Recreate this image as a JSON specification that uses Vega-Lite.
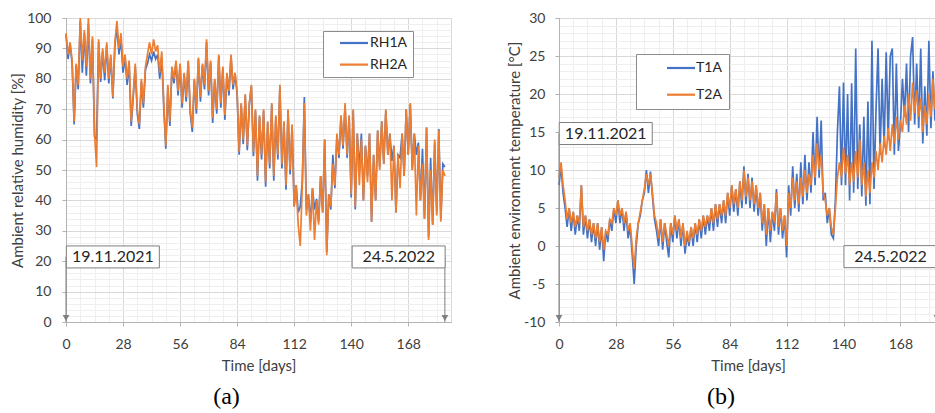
{
  "$schema": "https://vega.github.io/schema/vega-lite/v6.json",
  "background": "white",
  "padding": {"left": 10, "top": 11, "right": 0, "bottom": 0},
  "spacing": 55,
  "resolve": {"scale": {"color": "independent"}, "legend": {"color": "independent"}},
  "config": {
    "font": "Lato",
    "view": {"stroke": null},
    "axis": {
      "labelFont": "Lato", "labelFontSize": 14, "labelColor": "#404040",
      "titleFont": "Lato", "titleFontSize": 15, "titleFontWeight": "normal", "titleColor": "#404040",
      "domainColor": "#b3b3b3", "tickSize": 4, "grid": true, "gridWidth": 1,
      "labelOverlap": false, "labelFlush": false, "labelBound": false
    }
  },
  "datasets": {
    "series": [
      {"d":0,"RH1A":94.5,"RH2A":95,"T1A":8,"T2A":9},
      {"d":1,"RH1A":86.5,"RH2A":88,"T1A":10.5,"T2A":11},
      {"d":2,"RH1A":91.5,"RH2A":92,"T1A":7,"T2A":8},
      {"d":3,"RH1A":85,"RH2A":86,"T1A":5,"T2A":6},
      {"d":4,"RH1A":65,"RH2A":66,"T1A":2.5,"T2A":3.5},
      {"d":5,"RH1A":84.5,"RH2A":85,"T1A":5,"T2A":5},
      {"d":6,"RH1A":76.5,"RH2A":78,"T1A":2,"T2A":3},
      {"d":7,"RH1A":99,"RH2A":100,"T1A":4.5,"T2A":4.5},
      {"d":8,"RH1A":82,"RH2A":86,"T1A":1.5,"T2A":2.5},
      {"d":9,"RH1A":95,"RH2A":96,"T1A":4,"T2A":4},
      {"d":10,"RH1A":81,"RH2A":84,"T1A":2,"T2A":3},
      {"d":11,"RH1A":98,"RH2A":100,"T1A":8,"T2A":8},
      {"d":12,"RH1A":78.5,"RH2A":80,"T1A":1.5,"T2A":2.5},
      {"d":13,"RH1A":93,"RH2A":94,"T1A":4,"T2A":4},
      {"d":14,"RH1A":61,"RH2A":62,"T1A":1,"T2A":2},
      {"d":15,"RH1A":60,"RH2A":51,"T1A":3.5,"T2A":3.5},
      {"d":16,"RH1A":92,"RH2A":93,"T1A":0.5,"T2A":1.5},
      {"d":17,"RH1A":79,"RH2A":80,"T1A":3,"T2A":3},
      {"d":18,"RH1A":89,"RH2A":90,"T1A":0,"T2A":1},
      {"d":19,"RH1A":79.5,"RH2A":82,"T1A":3,"T2A":3},
      {"d":20,"RH1A":91,"RH2A":92,"T1A":-0.5,"T2A":0.5},
      {"d":21,"RH1A":78.5,"RH2A":80,"T1A":2.5,"T2A":2.5},
      {"d":22,"RH1A":87,"RH2A":88,"T1A":-2,"T2A":-0.5},
      {"d":23,"RH1A":73.5,"RH2A":74,"T1A":2,"T2A":2},
      {"d":24,"RH1A":91,"RH2A":92,"T1A":0.5,"T2A":1.5},
      {"d":25,"RH1A":97,"RH2A":99,"T1A":3.5,"T2A":3.5},
      {"d":26,"RH1A":88,"RH2A":90,"T1A":2,"T2A":3},
      {"d":27,"RH1A":93,"RH2A":95,"T1A":5,"T2A":5},
      {"d":28,"RH1A":82,"RH2A":84,"T1A":3,"T2A":4},
      {"d":29,"RH1A":87,"RH2A":88,"T1A":6,"T2A":6},
      {"d":30,"RH1A":78,"RH2A":80,"T1A":3,"T2A":4},
      {"d":31,"RH1A":85,"RH2A":86,"T1A":5,"T2A":5},
      {"d":32,"RH1A":64.5,"RH2A":66,"T1A":2,"T2A":3},
      {"d":33,"RH1A":74,"RH2A":75,"T1A":4.5,"T2A":4.5},
      {"d":34,"RH1A":84,"RH2A":85,"T1A":1,"T2A":2},
      {"d":35,"RH1A":68.5,"RH2A":70,"T1A":2.5,"T2A":3},
      {"d":36,"RH1A":63.5,"RH2A":65,"T1A":-1,"T2A":0},
      {"d":37,"RH1A":79,"RH2A":80,"T1A":-5,"T2A":-3},
      {"d":38,"RH1A":70.5,"RH2A":72,"T1A":0,"T2A":1},
      {"d":39,"RH1A":83,"RH2A":84,"T1A":3,"T2A":3},
      {"d":40,"RH1A":85,"RH2A":88,"T1A":4,"T2A":4.5},
      {"d":41,"RH1A":88,"RH2A":92,"T1A":6,"T2A":6},
      {"d":42,"RH1A":86,"RH2A":88,"T1A":7,"T2A":7.5},
      {"d":43,"RH1A":89,"RH2A":93,"T1A":10,"T2A":9.5},
      {"d":44,"RH1A":86.5,"RH2A":89,"T1A":7,"T2A":8},
      {"d":45,"RH1A":88,"RH2A":91,"T1A":9.8,"T2A":9.5},
      {"d":46,"RH1A":80,"RH2A":82,"T1A":6.5,"T2A":7},
      {"d":47,"RH1A":87,"RH2A":89,"T1A":3.5,"T2A":4},
      {"d":48,"RH1A":70.5,"RH2A":72,"T1A":2,"T2A":3},
      {"d":49,"RH1A":57,"RH2A":58,"T1A":0,"T2A":1},
      {"d":50,"RH1A":77,"RH2A":78,"T1A":3.5,"T2A":3.5},
      {"d":51,"RH1A":64.5,"RH2A":66,"T1A":-0.5,"T2A":0.5},
      {"d":52,"RH1A":83.5,"RH2A":84,"T1A":3,"T2A":3},
      {"d":53,"RH1A":78.5,"RH2A":80,"T1A":0.5,"T2A":1.5},
      {"d":54,"RH1A":85.5,"RH2A":86,"T1A":-1.5,"T2A":0},
      {"d":55,"RH1A":74.5,"RH2A":76,"T1A":3,"T2A":3},
      {"d":56,"RH1A":84.5,"RH2A":85,"T1A":0.5,"T2A":1.5},
      {"d":57,"RH1A":70.5,"RH2A":72,"T1A":4,"T2A":4},
      {"d":58,"RH1A":81.5,"RH2A":82,"T1A":1,"T2A":2},
      {"d":59,"RH1A":72.5,"RH2A":74,"T1A":3.5,"T2A":3.5},
      {"d":60,"RH1A":85.5,"RH2A":86,"T1A":0,"T2A":1},
      {"d":61,"RH1A":68.5,"RH2A":70,"T1A":3,"T2A":3},
      {"d":62,"RH1A":62.5,"RH2A":64,"T1A":-1,"T2A":0},
      {"d":63,"RH1A":79.5,"RH2A":80,"T1A":1.5,"T2A":2},
      {"d":64,"RH1A":68.5,"RH2A":70,"T1A":0,"T2A":0.5},
      {"d":65,"RH1A":86.5,"RH2A":87,"T1A":2.5,"T2A":2.5},
      {"d":66,"RH1A":72.5,"RH2A":74,"T1A":0,"T2A":1},
      {"d":67,"RH1A":84.5,"RH2A":85,"T1A":3,"T2A":3},
      {"d":68,"RH1A":76.5,"RH2A":78,"T1A":0.5,"T2A":1.5},
      {"d":69,"RH1A":92,"RH2A":93,"T1A":3.5,"T2A":3.5},
      {"d":70,"RH1A":74.5,"RH2A":76,"T1A":1,"T2A":2},
      {"d":71,"RH1A":85.5,"RH2A":86,"T1A":4,"T2A":4},
      {"d":72,"RH1A":65.5,"RH2A":67,"T1A":1.5,"T2A":2.5},
      {"d":73,"RH1A":79.5,"RH2A":80,"T1A":4,"T2A":4},
      {"d":74,"RH1A":68.5,"RH2A":70,"T1A":2,"T2A":3},
      {"d":75,"RH1A":87.5,"RH2A":88,"T1A":5,"T2A":5},
      {"d":76,"RH1A":70.5,"RH2A":72,"T1A":2,"T2A":3},
      {"d":77,"RH1A":83.5,"RH2A":84,"T1A":5.5,"T2A":5.5},
      {"d":78,"RH1A":66.5,"RH2A":68,"T1A":2.5,"T2A":3.5},
      {"d":79,"RH1A":81.5,"RH2A":82,"T1A":5.5,"T2A":5.5},
      {"d":80,"RH1A":74.5,"RH2A":76,"T1A":3,"T2A":4},
      {"d":81,"RH1A":87.5,"RH2A":88,"T1A":6,"T2A":6},
      {"d":82,"RH1A":76.5,"RH2A":78,"T1A":3,"T2A":4},
      {"d":83,"RH1A":81.5,"RH2A":82,"T1A":7,"T2A":7},
      {"d":84,"RH1A":75,"RH2A":76,"T1A":4,"T2A":5},
      {"d":85,"RH1A":55,"RH2A":56,"T1A":8,"T2A":8},
      {"d":86,"RH1A":71.5,"RH2A":72,"T1A":4.5,"T2A":5.5},
      {"d":87,"RH1A":58.5,"RH2A":60,"T1A":7.5,"T2A":7.5},
      {"d":88,"RH1A":74.5,"RH2A":75,"T1A":4,"T2A":5},
      {"d":89,"RH1A":56.5,"RH2A":58,"T1A":8.5,"T2A":8.5},
      {"d":90,"RH1A":71.5,"RH2A":72,"T1A":5,"T2A":6},
      {"d":91,"RH1A":77.5,"RH2A":78,"T1A":10.5,"T2A":10},
      {"d":92,"RH1A":54.5,"RH2A":56,"T1A":5.5,"T2A":6.5},
      {"d":93,"RH1A":69.5,"RH2A":70,"T1A":9.5,"T2A":9},
      {"d":94,"RH1A":46.5,"RH2A":48,"T1A":5,"T2A":6},
      {"d":95,"RH1A":67.5,"RH2A":68,"T1A":9,"T2A":8.5},
      {"d":96,"RH1A":53.5,"RH2A":55,"T1A":4.5,"T2A":5.5},
      {"d":97,"RH1A":69.5,"RH2A":70,"T1A":8,"T2A":8},
      {"d":98,"RH1A":44.5,"RH2A":46,"T1A":4,"T2A":5},
      {"d":99,"RH1A":65.5,"RH2A":66,"T1A":7,"T2A":7},
      {"d":100,"RH1A":50.5,"RH2A":52,"T1A":2,"T2A":3},
      {"d":101,"RH1A":71.5,"RH2A":72,"T1A":5.5,"T2A":5.5},
      {"d":102,"RH1A":46.5,"RH2A":48,"T1A":0,"T2A":1.5},
      {"d":103,"RH1A":67.5,"RH2A":68,"T1A":5,"T2A":5},
      {"d":104,"RH1A":53.5,"RH2A":55,"T1A":0.5,"T2A":2},
      {"d":105,"RH1A":77.5,"RH2A":78,"T1A":4.5,"T2A":4.5},
      {"d":106,"RH1A":50.5,"RH2A":52,"T1A":2,"T2A":3},
      {"d":107,"RH1A":65.5,"RH2A":66,"T1A":7.5,"T2A":7},
      {"d":108,"RH1A":43.5,"RH2A":45,"T1A":1.5,"T2A":2.5},
      {"d":109,"RH1A":69.5,"RH2A":70,"T1A":5,"T2A":5},
      {"d":110,"RH1A":48.5,"RH2A":50,"T1A":1,"T2A":2},
      {"d":111,"RH1A":64.5,"RH2A":65,"T1A":4,"T2A":4},
      {"d":112,"RH1A":38,"RH2A":38,"T1A":-1.5,"T2A":0},
      {"d":113,"RH1A":45,"RH2A":45,"T1A":8,"T2A":7},
      {"d":114,"RH1A":36,"RH2A":32,"T1A":4,"T2A":5},
      {"d":115,"RH1A":38,"RH2A":25,"T1A":10.5,"T2A":9},
      {"d":116,"RH1A":46,"RH2A":45,"T1A":5,"T2A":6},
      {"d":117,"RH1A":74,"RH2A":72,"T1A":9.5,"T2A":8.5},
      {"d":118,"RH1A":37,"RH2A":35,"T1A":4.5,"T2A":5.5},
      {"d":119,"RH1A":42,"RH2A":42,"T1A":11,"T2A":9},
      {"d":120,"RH1A":33,"RH2A":30,"T1A":5.5,"T2A":6.5},
      {"d":121,"RH1A":44,"RH2A":44,"T1A":12,"T2A":10},
      {"d":122,"RH1A":37,"RH2A":27,"T1A":6,"T2A":7},
      {"d":123,"RH1A":40.5,"RH2A":40,"T1A":11,"T2A":9.5},
      {"d":124,"RH1A":33,"RH2A":32,"T1A":7,"T2A":8},
      {"d":125,"RH1A":48,"RH2A":48,"T1A":15,"T2A":12},
      {"d":126,"RH1A":36,"RH2A":36,"T1A":8,"T2A":9},
      {"d":127,"RH1A":60,"RH2A":60,"T1A":17,"T2A":13.5},
      {"d":128,"RH1A":23,"RH2A":22,"T1A":9,"T2A":10},
      {"d":129,"RH1A":42,"RH2A":42,"T1A":16.5,"T2A":12},
      {"d":130,"RH1A":37,"RH2A":38,"T1A":6,"T2A":7},
      {"d":131,"RH1A":55,"RH2A":52,"T1A":7,"T2A":6},
      {"d":132,"RH1A":44,"RH2A":45,"T1A":3,"T2A":4},
      {"d":133,"RH1A":61.5,"RH2A":62,"T1A":5,"T2A":5},
      {"d":134,"RH1A":54,"RH2A":55,"T1A":1.5,"T2A":2.5},
      {"d":135,"RH1A":67.5,"RH2A":68,"T1A":1,"T2A":1.5},
      {"d":136,"RH1A":57,"RH2A":58,"T1A":6,"T2A":5},
      {"d":137,"RH1A":71,"RH2A":72,"T1A":15,"T2A":9},
      {"d":138,"RH1A":54,"RH2A":55,"T1A":21,"T2A":11},
      {"d":139,"RH1A":67.5,"RH2A":68,"T1A":8,"T2A":9},
      {"d":140,"RH1A":41,"RH2A":42,"T1A":21.5,"T2A":13},
      {"d":141,"RH1A":69.5,"RH2A":70,"T1A":8,"T2A":9.5},
      {"d":142,"RH1A":37,"RH2A":38,"T1A":20,"T2A":12},
      {"d":143,"RH1A":62,"RH2A":62,"T1A":6,"T2A":8},
      {"d":144,"RH1A":50,"RH2A":45,"T1A":21.4,"T2A":11},
      {"d":145,"RH1A":62,"RH2A":60,"T1A":7,"T2A":8.5},
      {"d":146,"RH1A":40,"RH2A":40,"T1A":26,"T2A":12.5},
      {"d":147,"RH1A":58,"RH2A":58,"T1A":7.5,"T2A":9},
      {"d":148,"RH1A":48,"RH2A":46,"T1A":16,"T2A":14},
      {"d":149,"RH1A":62,"RH2A":62,"T1A":6.5,"T2A":8},
      {"d":150,"RH1A":33,"RH2A":33,"T1A":17,"T2A":11},
      {"d":151,"RH1A":55,"RH2A":55,"T1A":5.3,"T2A":6.5},
      {"d":152,"RH1A":40,"RH2A":40,"T1A":19,"T2A":10},
      {"d":153,"RH1A":63,"RH2A":63,"T1A":5.5,"T2A":7},
      {"d":154,"RH1A":51,"RH2A":50,"T1A":27,"T2A":11},
      {"d":155,"RH1A":66,"RH2A":66,"T1A":7.5,"T2A":9},
      {"d":156,"RH1A":52,"RH2A":52,"T1A":18,"T2A":12.5},
      {"d":157,"RH1A":69.5,"RH2A":70,"T1A":26,"T2A":10},
      {"d":158,"RH1A":55,"RH2A":55,"T1A":12,"T2A":13.5},
      {"d":159,"RH1A":62,"RH2A":62,"T1A":22,"T2A":11},
      {"d":160,"RH1A":53,"RH2A":40,"T1A":13,"T2A":14.5},
      {"d":161,"RH1A":58,"RH2A":58,"T1A":25.5,"T2A":12},
      {"d":162,"RH1A":36,"RH2A":36,"T1A":14,"T2A":15.5},
      {"d":163,"RH1A":55,"RH2A":55,"T1A":25,"T2A":12.5},
      {"d":164,"RH1A":54,"RH2A":44,"T1A":26,"T2A":16},
      {"d":165,"RH1A":62,"RH2A":62,"T1A":12,"T2A":13.5},
      {"d":166,"RH1A":48,"RH2A":48,"T1A":24,"T2A":17},
      {"d":167,"RH1A":70,"RH2A":70,"T1A":12.5,"T2A":14},
      {"d":168,"RH1A":55,"RH2A":55,"T1A":16,"T2A":16.5},
      {"d":169,"RH1A":71.5,"RH2A":72,"T1A":22,"T2A":15},
      {"d":170,"RH1A":50,"RH2A":50,"T1A":17,"T2A":18.5},
      {"d":171,"RH1A":62,"RH2A":62,"T1A":24,"T2A":16},
      {"d":172,"RH1A":55,"RH2A":35,"T1A":15,"T2A":20},
      {"d":173,"RH1A":59,"RH2A":58,"T1A":25,"T2A":16.5},
      {"d":174,"RH1A":40,"RH2A":40,"T1A":27.5,"T2A":21.5},
      {"d":175,"RH1A":57,"RH2A":52,"T1A":16,"T2A":17.5},
      {"d":176,"RH1A":34,"RH2A":34,"T1A":24,"T2A":20.5},
      {"d":177,"RH1A":64,"RH2A":64,"T1A":15.5,"T2A":17},
      {"d":178,"RH1A":28,"RH2A":27,"T1A":26,"T2A":19.5},
      {"d":179,"RH1A":54,"RH2A":50,"T1A":13.5,"T2A":15},
      {"d":180,"RH1A":32,"RH2A":32,"T1A":21,"T2A":18.5},
      {"d":181,"RH1A":59,"RH2A":60,"T1A":14.5,"T2A":16},
      {"d":182,"RH1A":36,"RH2A":35,"T1A":27,"T2A":20},
      {"d":183,"RH1A":63.5,"RH2A":63,"T1A":15.5,"T2A":17},
      {"d":184,"RH1A":34,"RH2A":33,"T1A":23,"T2A":22},
      {"d":185,"RH1A":52,"RH2A":50,"T1A":16.5,"T2A":18},
      {"d":186,"RH1A":51,"RH2A":48,"T1A":22,"T2A":20}
    ],
    "notesA": [
      {"d": 23, "v": 21.4, "tip": 0, "base": 0, "label": "19.11.2021"},
      {"d": 163.3, "v": 21.4, "tip": 186, "base": 0, "label": "24.5.2022"}
    ],
    "notesB": [
      {"d": 23, "v": 14.8, "tip": 0, "base": -10, "label": "19.11.2021"},
      {"d": 163.1, "v": -1.4, "tip": 186, "base": -10, "label": "24.5.2022"}
    ]
  },
  "hconcat": [
    {
      "width": 385,
      "height": 304,
      "title": {"text": "(a)", "orient": "bottom", "anchor": "middle", "font": "Liberation Serif", "fontSize": 24, "fontWeight": "normal", "color": "#000000", "dx": -32, "offset": 12},
      "resolve": {"axis": {"x": "independent", "y": "independent"}},
      "layer": [
        {
          "data": {"name": "series"},
          "transform": [{"fold": ["RH1A", "RH2A"], "as": ["sensor", "value"]}],
          "mark": {"type": "line", "strokeWidth": 1.7},
          "encoding": {
            "x": {"field": "d", "type": "quantitative", "scale": {"domain": [0, 189], "nice": false, "zero": false},
              "axis": {"orient": "bottom", "title": "Time [days]", "values": [0,7,14,21,28,35,42,49,56,63,70,77,84,91,98,105,112,119,126,133,140,147,154,161,168,175,182,189],
                "labelExpr": "datum.value % 28 === 0 ? '' + datum.value : ''",
                "gridColor": {"condition": {"test": "datum.value % 28 === 0 || datum.value === 189", "value": "#d9d9d9"}, "value": "#efefef"},
                "tickColor": {"condition": {"test": "datum.value % 28 === 0", "value": "#b3b3b3"}, "value": "transparent"},
                "labelPadding": 11, "titlePadding": 7}},
            "y": {"field": "value", "type": "quantitative", "scale": {"domain": [0, 100], "nice": false},
              "axis": {"orient": "left", "title": "Ambient relative humidity [%]", "values": [0,2,4,6,8,10,12,14,16,18,20,22,24,26,28,30,32,34,36,38,40,42,44,46,48,50,52,54,56,58,60,62,64,66,68,70,72,74,76,78,80,82,84,86,88,90,92,94,96,98,100],
                "labelExpr": "datum.value % 10 === 0 ? '' + datum.value : ''",
                "gridColor": {"condition": {"test": "datum.value % 10 === 0", "value": "#d9d9d9"}, "value": "#efefef"},
                "tickColor": {"condition": {"test": "datum.value % 10 === 0", "value": "#b3b3b3"}, "value": "transparent"},
                "labelPadding": 11, "titlePadding": 1}},
            "color": {"field": "sensor", "type": "nominal",
              "scale": {"domain": ["RH1A", "RH2A"], "range": ["#4472C4", "#ED7D31"]},
              "legend": {"title": null, "orient": "none", "legendX": 257, "legendY": 13,
                "symbolType": "M-2.8,0H2.8", "symbolSize": 100, "symbolStrokeWidth": 2.2,
                "labelFont": "Lato", "labelFontSize": 14, "labelColor": "#262626",
                "labelExpr": "datum.label + '\u2002\u2002'",
                "strokeColor": "#8c8c8c", "fillColor": "white", "padding": 5,
                "symbolOffset": 19, "labelOffset": 9, "rowPadding": 7.6}}
          }
        },
        {
          "data": {"name": "notesA"},
          "mark": {"type": "rule", "color": "#7f7f7f", "strokeWidth": 1},
          "encoding": {
            "x": {"field": "tip", "type": "quantitative", "axis": null},
            "y": {"field": "v", "type": "quantitative", "axis": null},
            "y2": {"field": "base"}
          }
        },
        {
          "data": {"name": "notesA"},
          "mark": {"type": "point", "shape": "M-1,-0.2366H1V0.2366H-1Z", "size": 8649, "filled": true, "fill": "white", "stroke": "#7f7f7f", "strokeWidth": 1, "opacity": 1},
          "encoding": {
            "x": {"field": "d", "type": "quantitative", "axis": null},
            "y": {"field": "v", "type": "quantitative", "axis": null}
          }
        },
        {
          "data": {"name": "notesA"},
          "mark": {"type": "text", "font": "Lato", "fontSize": 16, "color": "#262626", "align": "center", "baseline": "middle"},
          "encoding": {
            "x": {"field": "d", "type": "quantitative", "axis": null},
            "y": {"field": "v", "type": "quantitative", "axis": null},
            "text": {"field": "label"}
          }
        },
        {
          "data": {"name": "notesA"},
          "mark": {"type": "point", "shape": "triangle-down", "size": 45, "filled": true, "color": "#7f7f7f", "opacity": 1, "yOffset": -4},
          "encoding": {
            "x": {"field": "tip", "type": "quantitative", "axis": null},
            "y": {"field": "base", "type": "quantitative", "axis": null}
          }
        }
      ]
    },
    {
      "width": 378,
      "height": 304,
      "title": {"text": "(b)", "orient": "bottom", "anchor": "middle", "font": "Liberation Serif", "fontSize": 24, "fontWeight": "normal", "color": "#000000", "dx": -27, "offset": 12},
      "resolve": {"axis": {"x": "independent", "y": "independent"}},
      "layer": [
        {
          "data": {"name": "series"},
          "transform": [{"fold": ["T1A", "T2A"], "as": ["sensor", "value"]}],
          "mark": {"type": "line", "strokeWidth": 1.7},
          "encoding": {
            "x": {"field": "d", "type": "quantitative", "scale": {"domain": [0, 186], "nice": false, "zero": false},
              "axis": {"orient": "bottom", "title": "Time [days]", "values": [0,7,14,21,28,35,42,49,56,63,70,77,84,91,98,105,112,119,126,133,140,147,154,161,168,175,182],
                "labelExpr": "datum.value % 28 === 0 ? '' + datum.value : ''",
                "gridColor": {"condition": {"test": "datum.value % 28 === 0", "value": "#d9d9d9"}, "value": "#efefef"},
                "tickColor": {"condition": {"test": "datum.value % 28 === 0", "value": "#b3b3b3"}, "value": "transparent"},
                "labelPadding": 11, "titlePadding": 7}},
            "y": {"field": "value", "type": "quantitative", "scale": {"domain": [-10, 30], "nice": false, "zero": false},
              "axis": {"orient": "left", "title": "Ambient environment temperature [°C]", "values": [-10,-9,-8,-7,-6,-5,-4,-3,-2,-1,0,1,2,3,4,5,6,7,8,9,10,11,12,13,14,15,16,17,18,19,20,21,22,23,24,25,26,27,28,29,30],
                "labelExpr": "datum.value % 5 === 0 ? '' + datum.value : ''",
                "gridColor": {"condition": {"test": "datum.value % 5 === 0", "value": "#d9d9d9"}, "value": "#efefef"},
                "tickColor": {"condition": {"test": "datum.value % 5 === 0", "value": "#b3b3b3"}, "value": "transparent"},
                "labelPadding": 10, "titlePadding": 1}},
            "color": {"field": "sensor", "type": "nominal",
              "scale": {"domain": ["T1A", "T2A"], "range": ["#4472C4", "#ED7D31"]},
              "legend": {"title": null, "orient": "none", "legendX": 77, "legendY": 36,
                "symbolType": "M-2.8,0H2.8", "symbolSize": 100, "symbolStrokeWidth": 2.2,
                "labelFont": "Lato", "labelFontSize": 14, "labelColor": "#262626",
                "labelExpr": "datum.label + '\u2002\u2002\u2002'",
                "strokeColor": "#8c8c8c", "fillColor": "white", "padding": 7,
                "symbolOffset": 31, "labelOffset": 8, "rowPadding": 12.7}}
          }
        },
        {
          "data": {"name": "notesB"},
          "mark": {"type": "rule", "color": "#7f7f7f", "strokeWidth": 1},
          "encoding": {
            "x": {"field": "tip", "type": "quantitative", "axis": null},
            "y": {"field": "v", "type": "quantitative", "axis": null},
            "y2": {"field": "base"}
          }
        },
        {
          "data": {"name": "notesB"},
          "mark": {"type": "point", "shape": "M-1,-0.2366H1V0.2366H-1Z", "size": 8649, "filled": true, "fill": "white", "stroke": "#7f7f7f", "strokeWidth": 1, "opacity": 1},
          "encoding": {
            "x": {"field": "d", "type": "quantitative", "axis": null},
            "y": {"field": "v", "type": "quantitative", "axis": null}
          }
        },
        {
          "data": {"name": "notesB"},
          "mark": {"type": "text", "font": "Lato", "fontSize": 16, "color": "#262626", "align": "center", "baseline": "middle"},
          "encoding": {
            "x": {"field": "d", "type": "quantitative", "axis": null},
            "y": {"field": "v", "type": "quantitative", "axis": null},
            "text": {"field": "label"}
          }
        },
        {
          "data": {"name": "notesB"},
          "mark": {"type": "point", "shape": "triangle-down", "size": 45, "filled": true, "color": "#7f7f7f", "opacity": 1, "yOffset": -4},
          "encoding": {
            "x": {"field": "tip", "type": "quantitative", "axis": null},
            "y": {"field": "base", "type": "quantitative", "axis": null}
          }
        }
      ]
    }
  ]
}
